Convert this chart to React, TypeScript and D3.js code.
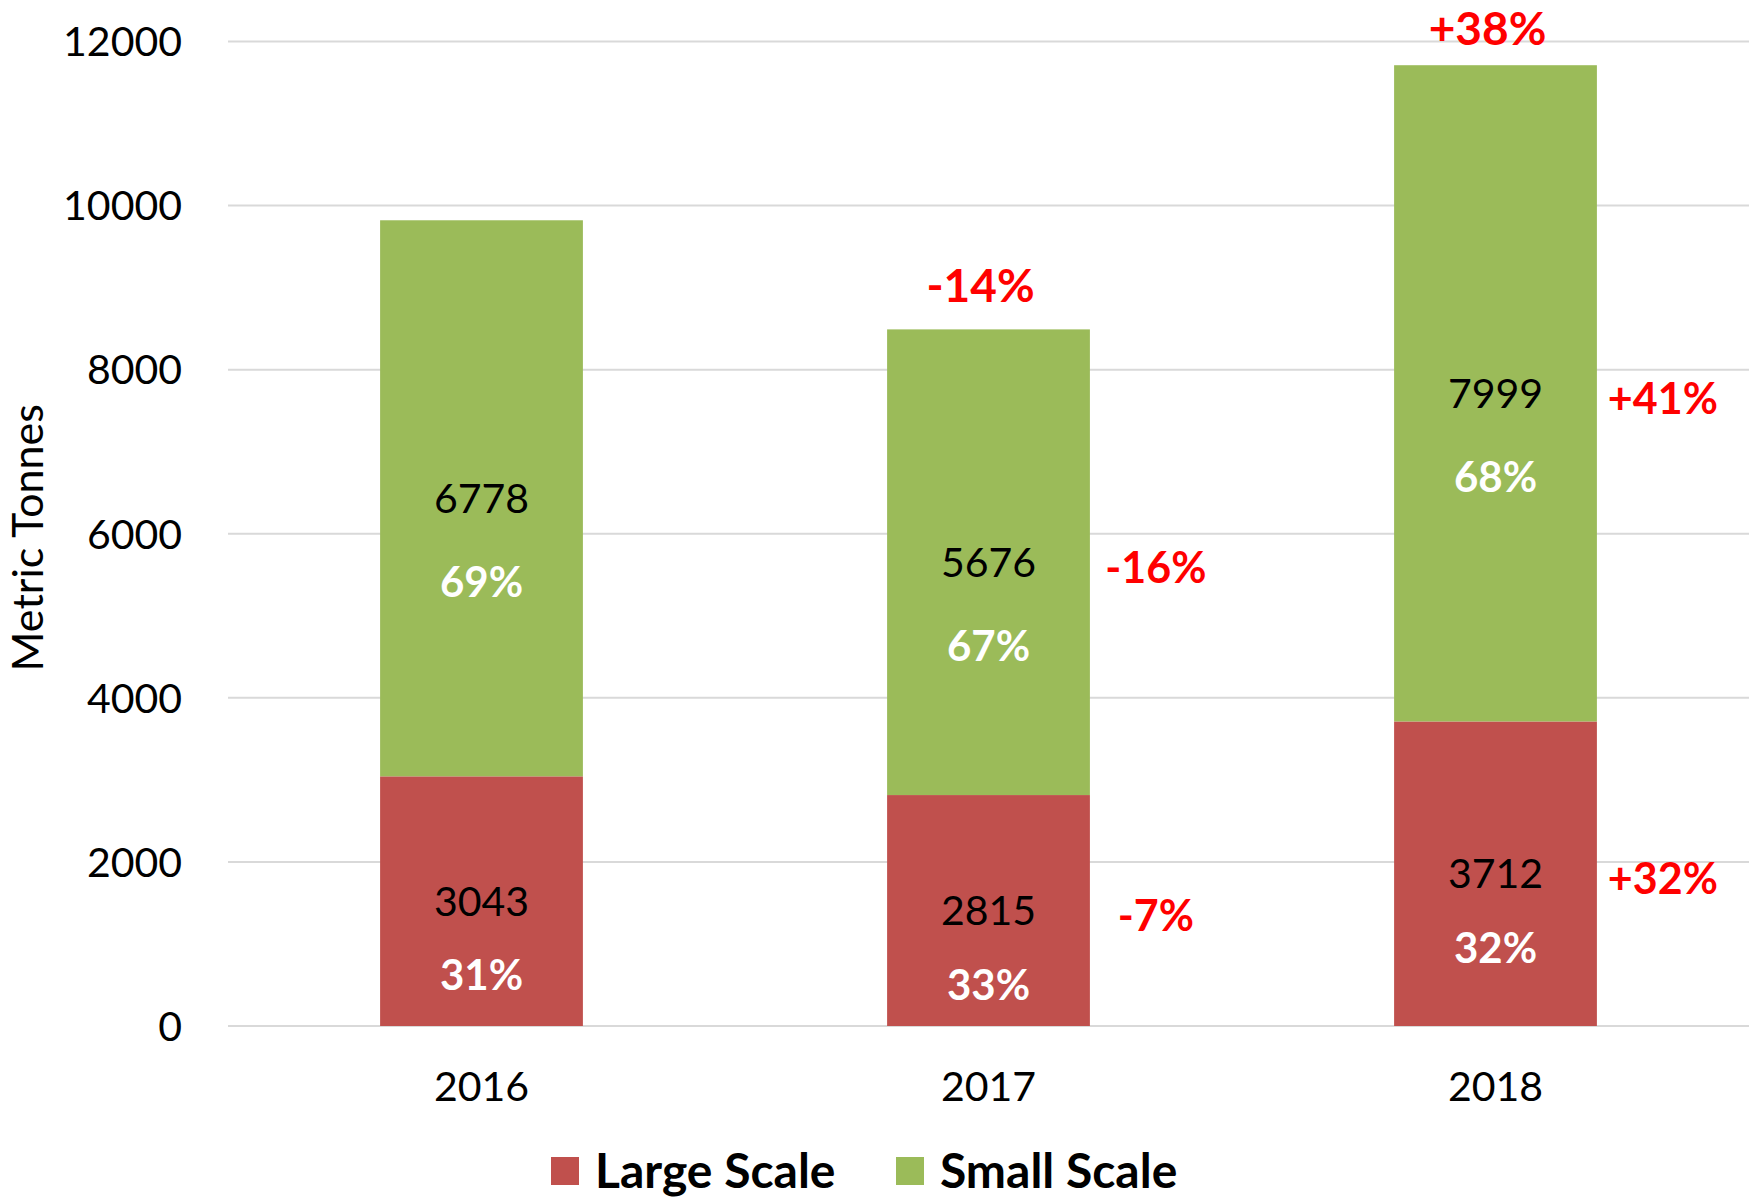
import React, { Component } from "react";
import * as d3 from "d3";

const years = ["2016", "2017", "2018"];
const largeScale = [3043, 2815, 3712];
const smallScale = [6778, 5676, 7999];
const largeShare = ["31%", "33%", "32%"];
const smallShare = ["69%", "67%", "68%"];
const totalChange = ["", "-14%", "+38%"];
const largeChange = ["", "-7%", "+32%"];
const smallChange = ["", "-16%", "+41%"];
const yTicks = [0, 2000, 4000, 6000, 8000, 10000, 12000];
const seriesNames = ["Large Scale", "Small Scale"];
const seriesColors = ["#C0504D", "#9BBB59"];

const FONT = "Lato, 'Open Sans', sans-serif";

class StackedChart extends Component<any> {
	node: HTMLDivElement | null = null;

	constructor(props: any) {
		super(props);
		this.createChart = this.createChart.bind(this);
	}

	createChart() {
		const node = this.node;
		if (!node) return;
		while (node.firstChild) node.removeChild(node.firstChild);

		const width = 1760;
		const height = 1197;
		const margin = { top: 41.5, right: 11, bottom: 171, left: 228 };
		const innerW = width - margin.left - margin.right;
		const innerH = height - margin.top - margin.bottom;

		const table = years.map((year, i) => ({
			year,
			large: largeScale[i],
			small: smallScale[i],
		}));
		const stacked = d3.stack<any>().keys(["large", "small"])(table);

		const x = d3
			.scaleBand()
			.domain(years)
			.range([0, innerW])
			.paddingInner(0.6)
			.paddingOuter(0.3);
		const y = d3.scaleLinear().domain([0, 12000]).range([innerH, 0]);

		const svg = d3
			.select(node)
			.append("svg")
			.attr("width", width)
			.attr("height", height)
			.style("position", "absolute")
			.style("left", "0px")
			.style("top", "0px")
			.style("font-family", FONT);

		svg.append("rect").attr("width", width).attr("height", height).attr("fill", "#fff");

		const g = svg.append("g").attr("transform", `translate(${margin.left},${margin.top})`);

		// gridlines
		g.selectAll(".grid")
			.data(yTicks)
			.enter()
			.append("line")
			.attr("x1", 0)
			.attr("x2", innerW)
			.attr("y1", d => y(d))
			.attr("y2", d => y(d))
			.attr("stroke", "#d9d9d9")
			.attr("stroke-width", 2);

		// y tick labels
		g.selectAll(".ytick")
			.data(yTicks)
			.enter()
			.append("text")
			.attr("x", -46)
			.attr("y", d => y(d))
			.attr("dy", "0.36em")
			.attr("text-anchor", "end")
			.style("font-size", "41px")
			.attr("fill", "#000")
			.text(d => d);

		// y axis title
		svg
			.append("text")
			.attr("transform", `translate(43,${margin.top + innerH / 2 + 4}) rotate(-90)`)
			.attr("text-anchor", "middle")
			.style("font-size", "43px")
			.attr("fill", "#000")
			.text("Metric Tonnes");

		// x tick labels
		g.selectAll(".xtick")
			.data(years)
			.enter()
			.append("text")
			.attr("x", d => x(d)! + x.bandwidth() / 2)
			.attr("y", innerH + 60)
			.attr("dy", "0.36em")
			.attr("text-anchor", "middle")
			.style("font-size", "41px")
			.attr("fill", "#000")
			.text(d => d);

		// bars
		const layers = g
			.selectAll(".layer")
			.data(stacked)
			.enter()
			.append("g")
			.attr("fill", (d, i) => seriesColors[i]);

		layers
			.selectAll("rect")
			.data(d => d)
			.enter()
			.append("rect")
			.attr("x", d => x(d.data.year)!)
			.attr("width", x.bandwidth())
			.attr("y", d => y(d[1]))
			.attr("height", d => y(d[0]) - y(d[1]));

		const shares = [largeShare, smallShare];
		const changes = [largeChange, smallChange];
		const shareOffset = [74, 84];

		stacked.forEach((layer, s) => {
			layer.forEach((d, i) => {
				const cx = x(d.data.year)! + x.bandwidth() / 2;
				const mid = (y(d[0]) + y(d[1])) / 2;
				g.append("text")
					.attr("x", cx)
					.attr("y", mid)
					.attr("dy", "0.36em")
					.attr("text-anchor", "middle")
					.style("font-size", "41px")
					.attr("fill", "#000")
					.text(d[1] - d[0]);
				g.append("text")
					.attr("x", cx)
					.attr("y", mid + shareOffset[s])
					.attr("dy", "0.36em")
					.attr("text-anchor", "middle")
					.style("font-size", "42px")
					.style("font-weight", "bold")
					.attr("fill", "#fff")
					.text(shares[s][i]);
				if (changes[s][i]) {
					g.append("text")
						.attr("x", x(d.data.year)! + x.bandwidth() + 66)
						.attr("y", mid + 5)
						.attr("dy", "0.36em")
						.attr("text-anchor", "middle")
						.style("font-size", "43px")
						.style("font-weight", "bold")
						.attr("fill", "#ff0000")
						.text(changes[s][i]);
				}
			});
		});

		// change of total above bars
		stacked[1].forEach((d, i) => {
			if (!totalChange[i]) return;
			g.append("text")
				.attr("x", x(d.data.year)! + x.bandwidth() / 2 - 8)
				.attr("y", Math.max(y(d[1]) - 44, -13))
				.attr("dy", "0.36em")
				.attr("text-anchor", "middle")
				.style("font-size", "46px")
				.style("font-weight", "bold")
				.attr("fill", "#ff0000")
				.text(totalChange[i]);
		});

		// legend
		const legend = svg
			.selectAll(".legend")
			.data(seriesNames)
			.enter()
			.append("g")
			.attr("transform", (d, i) => `translate(${551 + i * 345},1171)`);
		legend
			.append("rect")
			.attr("x", 0)
			.attr("y", -14)
			.attr("width", 28)
			.attr("height", 28)
			.attr("fill", (d, i) => seriesColors[i]);
		legend
			.append("text")
			.attr("x", 44)
			.attr("y", 0)
			.attr("dy", "0.36em")
			.style("font-size", "48px")
			.style("font-weight", "bold")
			.attr("fill", "#000")
			.text(d => d);
	}

	componentDidMount() {
		this.createChart();
	}

	componentDidUpdate() {
		this.createChart();
	}

	render() {
		return <div ref={node => (this.node = node)}></div>;
	}
}

export default function App() {
	return <StackedChart />;
}
